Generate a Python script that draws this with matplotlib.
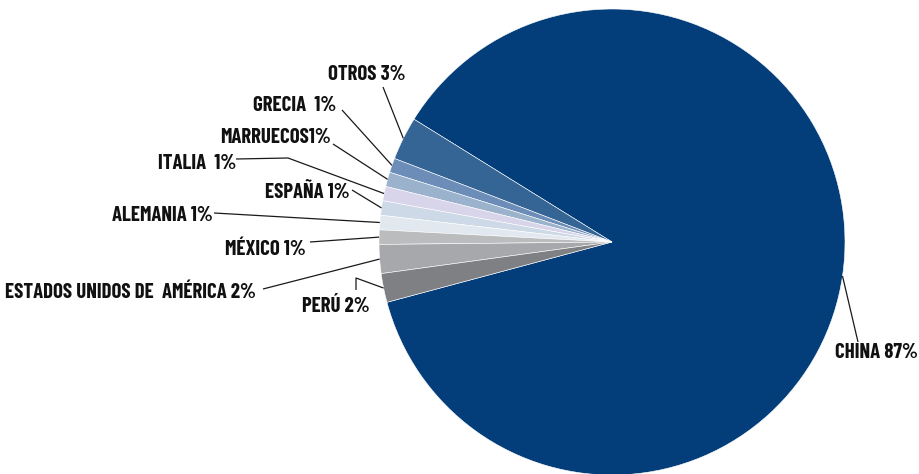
import numpy as np
import matplotlib.pyplot as plt

# Datos del gráfico
paises = ["CHINA", "OTROS", "GRECIA", "MARRUECOS", "ITALIA", "ESPAÑA",
          "ALEMANIA", "MÉXICO", "ESTADOS UNIDOS DE  AMÉRICA", "PERÚ"]
porcentajes = [87, 3, 1, 1, 1, 1, 1, 1, 2, 2]
colores = ["#033d7a", "#356595", "#6b8db8", "#9ab2cc", "#d8d4ea",
           "#cdd9e6", "#e1e8ef", "#bbbcbe", "#a7a8ab", "#7f8083"]
etiquetas = ["CHINA 87%", "OTROS 3%", "GRECIA  1%", "MARRUECOS1%", "ITALIA  1%",
             "ESPAÑA 1%", "ALEMANIA 1%", "MÉXICO 1%",
             "ESTADOS UNIDOS DE  AMÉRICA 2%", "PERÚ 2%"]

# posición del texto, alineación y codos de la línea guía (coordenadas en px)
pos_texto = [(876, 121, "center"), (367, 400, "center"), (336, 369, "right"),
             (331, 337, "right"), (236, 311, "right"), (350, 282, "right"),
             (213, 259, "right"), (306, 225, "right"), (256, 181, "right"),
             (336, 167, "center")]
guias = [[(858, 132)], [(383, 387)], [(342, 364)], [(333, 330)],
         [(236, 315), (288, 316)], [(352, 284)], [(214, 261)], [(310, 232)],
         [(263, 185)], [(356, 184), (356, 196)]]

plt.rcParams['font.family'] = ['Barlow Condensed', 'DejaVu Sans']

fig = plt.figure(figsize=(9.19, 4.74), dpi=100)
ax = fig.add_axes([0, 0, 1, 1])
ax.axis('off')

cx, cy, r = 612, 232, 233
inicio = 195
wedges, _ = ax.pie(porcentajes, colors=colores, startangle=inicio,
                   counterclock=True, center=(cx, cy), radius=r,
                   wedgeprops=dict(edgecolor='white', linewidth=0.4))
ax.set_xlim(0, 919)
ax.set_ylim(0, 474)
ax.set_aspect('equal')

for w, etq, (tx, ty, ha), pts in zip(wedges, etiquetas, pos_texto, guias):
    ang = np.deg2rad((w.theta1 + w.theta2) / 2)
    ex = cx + r * np.cos(ang)
    ey = cy + r * np.sin(ang)
    xs = [p[0] for p in pts] + [ex]
    ys = [p[1] for p in pts] + [ey]
    ax.plot(xs, ys, color='#1a1a1a', lw=0.9, solid_capstyle='butt')
    ax.text(tx, ty, etq, ha=ha, va='center', fontsize=15,
            fontweight='bold', color='#111111')

fig.savefig('out.png', dpi=100)
